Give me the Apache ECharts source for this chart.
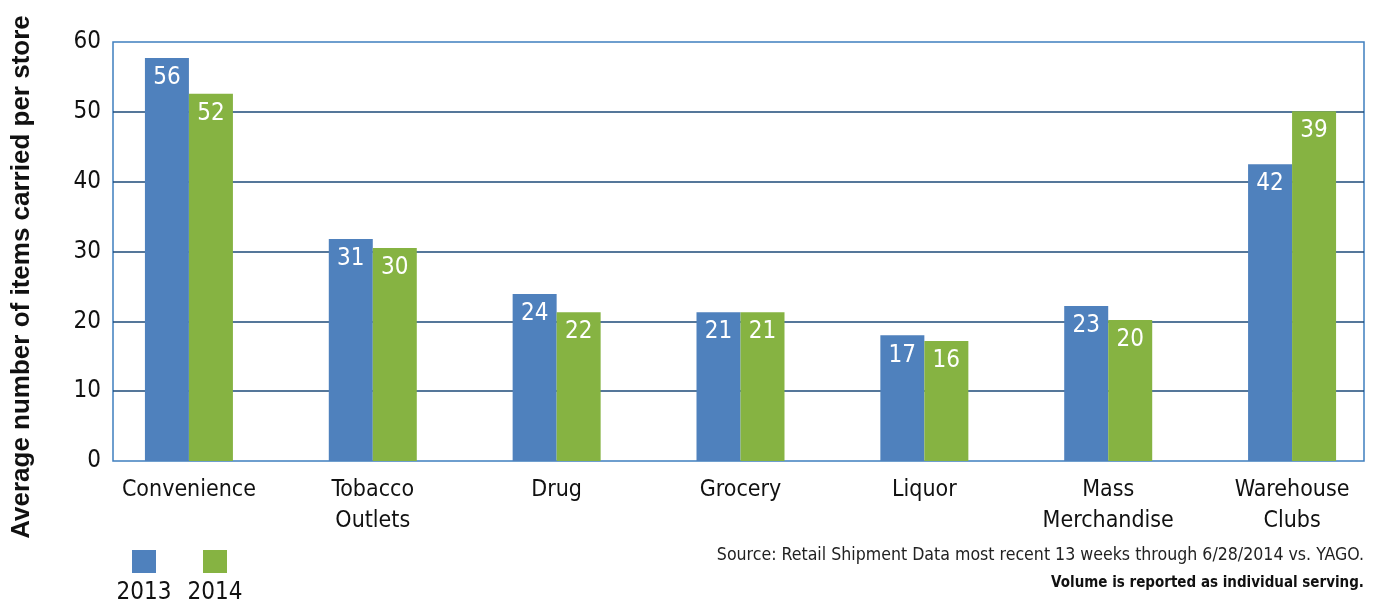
<!DOCTYPE html>
<html>
<head>
<meta charset="utf-8">
<script src="https://cdn.jsdelivr.net/npm/echarts@6/dist/echarts.min.js"></script>
<style>
  html, body { margin: 0; padding: 0; background: #fff; overflow: hidden; }
  #grafico { width: 1400px; height: 605px; }
</style>
</head>
<body>
<div id="grafico"></div>
<script>
// data
const categorias = ['Convenience', 'Tobacco\nOutlets', 'Drug', 'Grocery', 'Liquor', 'Mass\nMerchandise', 'Warehouse\nClubs'];
const series_nombres = ['2013', '2014'];
const valores2013 = [57.7, 31.8, 23.9, 21.3, 18.0, 22.2, 42.5];
const valores2014 = [52.6, 30.5, 21.3, 21.3, 17.2, 20.2, 50.1];
// printed labels (as shown on the bars)
const etiquetas2013 = ['56', '31', '24', '21', '17', '23', '42'];
const etiquetas2014 = ['52', '30', '22', '21', '16', '20', '39'];
const yMin = 0, yMax = 60, yPaso = 10;

const fuente = '"Liberation Sans Narrow", "DejaVu Sans Condensed", "Roboto Condensed", sans-serif';
const azul = '#4f81bd';
const verde = '#86b342';

var grafico = document.getElementById('grafico');
var myChart = echarts.init(grafico);

function serieBarra(nombre, datos, etiquetas, color) {
    return {
        name: nombre,
        type: 'bar',
        xAxisIndex: 1,
        yAxisIndex: 1,
        data: datos,
        barWidth: 44,
        barGap: '0%',
        itemStyle: { color: color },
        label: {
            show: true,
            position: 'insideTop',
            distance: 8,
            color: '#fff',
            fontFamily: fuente,
            fontSize: 24,
            formatter: (p) => etiquetas[p.dataIndex]
        }
    };
}

var options = {
    animation: false,
    textStyle: { fontFamily: fuente },
    grid: [
        { left: 113, right: 36, top: 42, bottom: 144, show: true, borderColor: '#3f7fbf', borderWidth: 1.5 },
        { left: 97, width: 1287, top: 42, bottom: 144 }
    ],
    xAxis: [
        { gridIndex: 0, type: 'value', show: false, min: 0, max: 1 },
        {
            gridIndex: 1,
            type: 'category',
            data: categorias,
            axisLine: { show: false },
            axisTick: { show: false },
            axisLabel: { color: '#111', fontSize: 23, lineHeight: 31, margin: 14, fontFamily: fuente }
        }
    ],
    yAxis: [
        {
            gridIndex: 0,
            type: 'value',
            min: yMin, max: yMax, interval: yPaso,
            axisLine: { show: false },
            axisTick: { show: false },
            axisLabel: { color: '#111', fontSize: 24, margin: 12, fontFamily: fuente },
            splitLine: { show: true, showMinLine: false, showMaxLine: false, lineStyle: { color: '#1c4a78', width: 1.5 } }
        },
        { gridIndex: 1, type: 'value', min: yMin, max: yMax, show: false }
    ],
    series: [
        serieBarra(series_nombres[0], valores2013, etiquetas2013, azul),
        serieBarra(series_nombres[1], valores2014, etiquetas2014, verde)
    ],
    graphic: [
        {
            type: 'text', rotation: Math.PI / 2,
            x: 22, y: 277,
            style: { text: 'Average number of items carried per store', font: 'bold 26px "Liberation Sans", Arial, sans-serif', fill: '#111', align: 'center', verticalAlign: 'middle' }
        },
        { type: 'rect', shape: { x: 132, y: 550, width: 24, height: 23 }, style: { fill: azul } },
        { type: 'rect', shape: { x: 203, y: 550, width: 24, height: 23 }, style: { fill: verde } },
        { type: 'text', x: 144, y: 593, style: { text: series_nombres[0], font: '24px ' + fuente, fill: '#111', align: 'center', verticalAlign: 'middle' } },
        { type: 'text', x: 215, y: 593, style: { text: series_nombres[1], font: '24px ' + fuente, fill: '#111', align: 'center', verticalAlign: 'middle' } },
        { type: 'text', x: 1364, y: 555, style: { text: 'Source: Retail Shipment Data most recent 13 weeks through 6/28/2014 vs. YAGO.', font: '17.6px ' + fuente, fill: '#222', align: 'right', verticalAlign: 'middle' } },
        { type: 'text', x: 1364, y: 583, style: { text: 'Volume is reported as individual serving.', font: 'bold 15px ' + fuente, fill: '#111', align: 'right', verticalAlign: 'middle' } }
    ]
};
myChart.setOption(options);
</script>
</body>
</html>
